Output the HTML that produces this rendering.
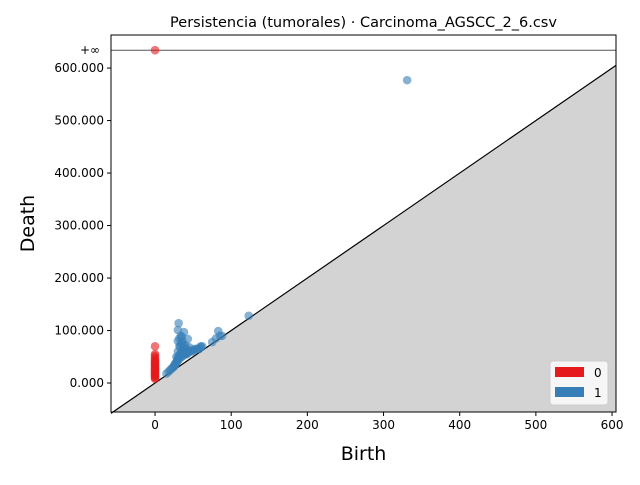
<!DOCTYPE html>
<html><head><meta charset="utf-8"><style>
body{margin:0;background:#fff;font-family:"Liberation Sans","DejaVu Sans",sans-serif}
</style></head><body>
<svg id="chart" width="640" height="480" xmlns="http://www.w3.org/2000/svg" font-family="DejaVu Sans, Liberation Sans, sans-serif"></svg>
<script>
const xTicks=[0,100,200,300,400,500,600];
const yTicks=[0,100,200,300,400,500,600];
const yTickLabels=["0.000","100.000","200.000","300.000","400.000","500.000","600.000"];
const h0Death=[8,10,12,14,16,18,20,22,24,26,28,30,32,34,36,38,40,42,45,48,52,55,70];
const h0Inf=[0];
const h1Birth=[15,18,20,22,24,25,26,27,28,29,30,30,31,32,33,34,35,36,37,38,40,42,44,46,48,50,52,55,58,60,62,28,30,32,34,36,38,40,30,32,34,36,38,42,45,50,55,60,75,80,85,31,30,38,43,83,88,123,331,33,36,40,35,45,25,27,29,31,33,35,37,39,41,43];
const h1Death=[18,22,25,28,30,33,35,38,40,42,45,48,50,52,55,58,60,62,65,60,55,58,60,62,60,62,65,65,65,68,70,50,60,70,75,80,70,65,80,85,90,60,55,55,60,62,65,70,78,85,90,114,101,97,84,99,90,128,577,70,75,72,88,68,32,36,40,44,48,50,52,55,56,58];
const svg=document.getElementById('chart');
const NS='http://www.w3.org/2000/svg';
const L=111,R=616,T=35,B=412;
const xmin=-57.8,xmax=605.2,ymin=-55.2,ymax=663;
const X=v=>L+(v-xmin)/(xmax-xmin)*(R-L);
const Y=v=>B-(v-ymin)/(ymax-ymin)*(B-T);
function el(t,a,txt){const e=document.createElementNS(NS,t);for(const k in a)e.setAttribute(k,a[k]);if(txt!==undefined)e.textContent=txt;svg.appendChild(e);return e;}
let e;
e=el('polygon',{points:`${X(ymin)},${B} ${R},${Y(xmax)} ${R},${B}`,fill:'#d3d3d3'});

e=el('polygon',{points:`${L},${B} ${X(ymin)},${B} ${L},${Y(xmin)}`,fill:'#d3d3d3'});

e=el('line',{x1:L,y1:Y(xmin),x2:R,y2:Y(xmax),stroke:'#000','stroke-width':1.2});

const infY=Y(634);
e=el('line',{x1:L,y1:infY,x2:R,y2:infY,stroke:'#555','stroke-width':1});

e=el('text',{x:L-11,y:infY+4,'font-size':12,'text-anchor':'end'},'+∞');

for(let i=0;i<h0Death.length;i++){e=el('circle',{cx:X(0),cy:Y(h0Death[i]),r:4.3,fill:'#e41a1c','fill-opacity':0.6});
}
for(let i=0;i<h0Inf.length;i++){e=el('circle',{cx:X(h0Inf[i]),cy:infY,r:4.3,fill:'#e41a1c','fill-opacity':0.6});
}
for(let i=0;i<h1Birth.length;i++){e=el('circle',{cx:X(h1Birth[i]),cy:Y(h1Death[i]),r:4.3,fill:'#377eb8','fill-opacity':0.6});
}
e=el('rect',{x:L,y:T,width:R-L,height:B-T,fill:'none',stroke:'#000','stroke-width':1});

xTicks.forEach(t=>{e=el('line',{x1:X(t),y1:B,x2:X(t),y2:B+4,stroke:'#000'});
e=el('text',{x:X(t),y:B+17,'font-size':12,'text-anchor':'middle'},String(t));});
yTicks.forEach((t,i)=>{e=el('line',{x1:L-4,y1:Y(t),x2:L,y2:Y(t),stroke:'#000'});
e=el('text',{x:L-7,y:Y(t)+4,'font-size':12,'text-anchor':'end'},yTickLabels[i]);});
e=el('text',{x:(L+R)/2,y:460,'font-size':19,'text-anchor':'middle'},'Birth');
e=el('text',{x:34,y:(T+B)/2,'font-size':19,'text-anchor':'middle',transform:`rotate(-90 34 ${(T+B)/2})`},'Death');
e=el('text',{x:(L+R)/2,y:27,'font-size':14.5,'text-anchor':'middle'},'Persistencia (tumorales) · Carcinoma_AGSCC_2_6.csv');
e=el('rect',{x:550,y:361,width:58,height:44,rx:3,fill:'#fff','fill-opacity':0.8,stroke:'#ccc'});
e=el('rect',{x:555,y:367,width:29,height:10,fill:'#e41a1c'});
e=el('text',{x:594,y:377,'font-size':12},'0');
e=el('rect',{x:555,y:387,width:29,height:10,fill:'#377eb8'});
e=el('text',{x:594,y:397,'font-size':12},'1');
</script>
</body></html>
